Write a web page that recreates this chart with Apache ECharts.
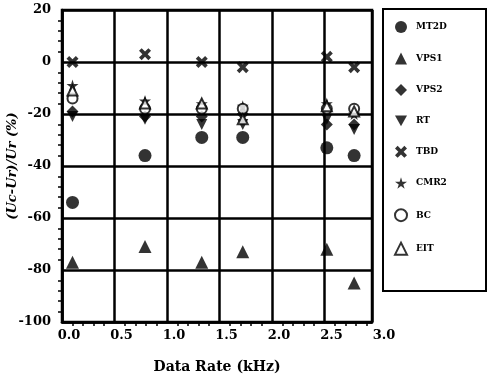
<!DOCTYPE html>
<html>
<head>
<meta charset="utf-8">
<script src="https://cdn.jsdelivr.net/npm/echarts@6/dist/echarts.min.js"></script>
<style>
  html, body { margin: 0; padding: 0; background: #fff; }
  #chart { width: 490px; height: 382px; }
</style>
</head>
<body>
<div id="chart"></div>
<script>
// Data rates (kHz) at which each measurement cluster was taken
const rates = [0.1, 0.79, 1.33, 1.72, 2.52, 2.78];

// Relative error (Uc-Ur)/Ur in percent, one array per method
const mt2d = [-54, -36, -29, -29, -33, -36];
const vps1 = [-77, -71, -77, -73, -72, -85];
const vps2 = [-19, -21, -21, -20, -24, -24];
const rt   = [-21, -22, -24, -24, -22, -26];
const tbd  = [0, 3, 0, -2, 2, -2];
const cmr2 = [-9, -15, -16, -17, -16, -20];
const bc   = [-14, -18, -18, -18, -18, -18];
const eit  = [-11, -16, -16, -22, -17, -19];

// Axis tick labels
const xTicks = [0.0, 0.5, 1.0, 1.5, 2.0, 2.5, 3.0];
const yTicks = [20, 0, -20, -40, -60, -80, -100];

const FONT = 'DejaVu Serif';
const INK = '#000';

const SYM = {
  down: 'path://M0,0 L10,0 L5,9 Z',
  cross: 'path://M2.2,0 L5,2.8 L7.8,0 L10,2.2 L7.2,5 L10,7.8 L7.8,10 L5,7.2 L2.2,10 L0,7.8 L2.8,5 L0,2.2 Z',
  star: 'path://M50,0 L61,35 L98,35 L68,57 L79,91 L50,70 L21,91 L32,57 L2,35 L39,35 Z'
};

const methods = [
  { name: 'MT2D', vals: mt2d, symbol: 'circle', size: 13 },
  { name: 'VPS1', vals: vps1, symbol: 'triangle', size: 13 },
  { name: 'VPS2', vals: vps2, symbol: 'diamond', size: 12 },
  { name: 'RT',   vals: rt,   symbol: SYM.down, size: 11 },
  { name: 'TBD',  vals: tbd,  symbol: SYM.cross, size: 12 },
  { name: 'CMR2', vals: cmr2, symbol: SYM.star, size: 12 },
  { name: 'BC',   vals: bc,   symbol: 'emptyCircle', size: 10 },
  { name: 'EIT',  vals: eit,  symbol: 'emptyTriangle', size: 10 }
];

const series = methods.map(m => ({
  name: m.name,
  type: 'scatter',
  xAxisIndex: 0,
  yAxisIndex: 0,
  symbol: m.symbol,
  symbolSize: m.size,
  itemStyle: {
    color: INK,
    borderColor: INK,
    borderWidth: m.symbol.startsWith('empty') ? 2.2 : 0
  },
  data: rates.map((r, i) => [r, m.vals[i]])
}));

const chart = echarts.init(document.getElementById('chart'), null, { renderer: 'canvas' });

chart.setOption({
  backgroundColor: '#fff',
  animation: false,
  grid: [
    { left: 62, top: 10, width: 310, height: 312, outerBoundsMode: 'none', containLabel: false,
      show: true, borderColor: INK, borderWidth: 2.5, backgroundColor: 'transparent' },
    // label strip for the rate scale
    { left: 69, top: 10, width: 315, height: 312, outerBoundsMode: 'none', containLabel: false, show: false }
  ],
  xAxis: [
    {
      gridIndex: 0, type: 'value', min: 0, max: 2.95, interval: 0.5,
      axisLine: { show: true, onZero: false, lineStyle: { color: INK, width: 2.5 } },
      axisTick: { show: false },
      minorTick: { show: true, splitNumber: 5, length: 4, lineStyle: { color: INK, width: 1.5 } },
      axisLabel: { show: false },
      splitLine: { show: true, lineStyle: { color: INK, width: 2.5 } },
      name: 'Data Rate (kHz)', nameLocation: 'middle', nameGap: 38, nameMoveOverlap: false,
      nameTextStyle: { fontFamily: FONT, fontWeight: 'bold', fontSize: 14, color: INK }
    },
    {
      gridIndex: 1, type: 'value', min: xTicks[0], max: xTicks[xTicks.length - 1], interval: 0.5,
      axisLine: { show: false, onZero: false }, axisTick: { show: false }, splitLine: { show: false },
      axisLabel: {
        show: true, margin: 7, color: INK, fontFamily: FONT, fontWeight: 'bold', fontSize: 13,
        formatter: v => v.toFixed(1)
      }
    }
  ],
  yAxis: [
    {
      gridIndex: 0, type: 'value', min: yTicks[yTicks.length - 1], max: yTicks[0], interval: 20,
      axisLine: { show: true, onZero: false, lineStyle: { color: INK, width: 2.5 } },
      axisTick: { show: false },
      minorTick: { show: true, splitNumber: 5, length: 4, lineStyle: { color: INK, width: 1.5 } },
      axisLabel: { margin: 11, color: INK, fontFamily: FONT, fontWeight: 'bold', fontSize: 13 },
      splitLine: { show: true, lineStyle: { color: INK, width: 2.5 } },
      name: '(Uc-Ur)/Ur (%)', nameLocation: 'middle', nameGap: 43, nameRotate: 90, nameMoveOverlap: false,
      nameTextStyle: { fontFamily: FONT, fontWeight: 'bold', fontStyle: 'italic', fontSize: 13, color: INK }
    },
    { gridIndex: 1, type: 'value', show: false }
  ],
  legend: {
    orient: 'vertical',
    left: 389, top: 16,
    itemGap: 19.5,
    itemWidth: 12, itemHeight: 12,
    textStyle: { fontFamily: FONT, fontWeight: 'bold', fontSize: 9, color: INK, padding: [0, 0, 0, 4] },
    data: methods.map(m => m.name)
  },
  graphic: [
    {
      type: 'rect', left: 382, top: 8, z: -1,
      shape: { width: 103, height: 282 },
      style: { fill: '#fff', stroke: INK, lineWidth: 2 }
    }
  ],
  series: series
});
</script>
</body>
</html>
